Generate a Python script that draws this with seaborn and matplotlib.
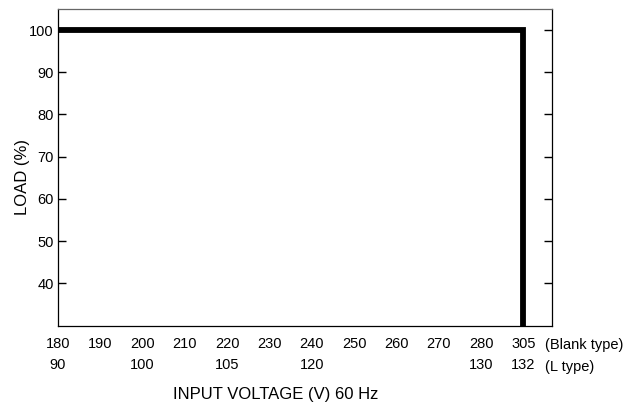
import numpy as np
import matplotlib
matplotlib.use("Agg")
import matplotlib.pyplot as plt
import matplotlib.transforms as mtransforms
import seaborn as sns

# tick labels of the voltage axis (two rows: Blank type / L type)
volt_blank = [180, 190, 200, 210, 220, 230, 240, 250, 260, 270, 280, 305]
volt_l = ["90", "", "100", "", "105", "", "120", "", "", "", "130", "132"]
load_ticks = [40, 50, 60, 70, 80, 90, 100]

# derating curve (blank type voltage, load %)
curve_volt = [180, 305, 305]
curve_load = [100, 100, 30]

sns.set_style("white")
plt.rcParams["font.family"] = ["Liberation Sans Narrow", "Liberation Sans", "DejaVu Sans"]
plt.rcParams["text.color"] = "black"
plt.rcParams["xtick.color"] = "black"
plt.rcParams["ytick.color"] = "black"

fig = plt.figure(figsize=(6.31, 4.05), dpi=100)
ax = fig.add_axes([0.092, 0.196, 0.783, 0.782])

# the axis is drawn with evenly spaced ticks, so map voltage -> tick index
pos = np.arange(len(volt_blank))
curve_x = np.interp(curve_volt, volt_blank, pos)

sns.lineplot(x=curve_x, y=curve_load, sort=False, estimator=None,
             color="black", lw=4.2, ax=ax,
             solid_joinstyle="miter", solid_capstyle="butt")

ax.set_xlim(0, 11.68)
ax.set_ylim(30, 105)

ax.set_xticks(pos)
ax.set_xticklabels([f"{b}\n{l}" for b, l in zip(volt_blank, volt_l)],
                   linespacing=1.7)
ax.set_yticks(load_ticks)

ax.tick_params(axis="x", direction="in", length=6, width=1, pad=8,
               labelsize=10.5, color="black")
ax.tick_params(axis="y", direction="in", length=6, width=1, pad=3,
               labelsize=10.5, color="black", left=True, right=True)

for side in ["left", "bottom", "right"]:
    ax.spines[side].set_color("black")
    ax.spines[side].set_linewidth(0.9)
ax.spines["top"].set_color("#666666")
ax.spines["top"].set_linewidth(0.9)

trans = mtransforms.blended_transform_factory(ax.transData, ax.transAxes)
ax.text(11.5, -0.04, "(Blank type)\n(L type)", transform=trans,
        ha="left", va="top", fontsize=10.5, linespacing=1.7)

fig.text(0.036, 0.563, "LOAD (%)", rotation=90, ha="center", va="center",
         fontsize=12)
fig.text(0.437, 0.025, "INPUT VOLTAGE (V) 60 Hz", ha="center", va="center",
         fontsize=12, family=["Liberation Sans", "DejaVu Sans"])

fig.savefig("out.png", dpi=100)
